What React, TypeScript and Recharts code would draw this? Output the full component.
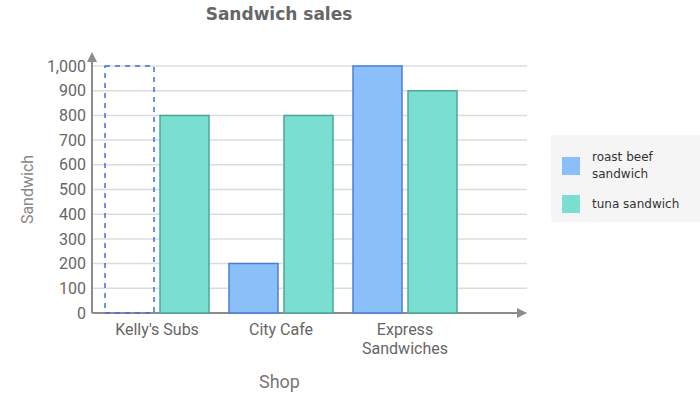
import React from "react";
import { BarChart, Bar, XAxis, YAxis, CartesianGrid, Legend, Cell, Text, Label, usePlotArea } from "recharts";

const shops = ["Kelly's Subs", "City Cafe", "Express Sandwiches"];
const roastBeef = [1000, 200, 1000];
const tuna = [800, 800, 900];
const estimated = [true, false, false];
const yTicks = [0, 100, 200, 300, 400, 500, 600, 700, 800, 900, 1000];

const series = [
  { key: "roastBeef", name: "roast beef sandwich", fill: "#8bbff9", stroke: "#4b7fd6" },
  { key: "tuna", name: "tuna sandwich", fill: "#7adfd1", stroke: "#4aa99b" },
];

const data = shops.map((shop, i) => ({ shop, roastBeef: roastBeef[i], tuna: tuna[i] }));

const AXIS = "#8c8c8c";

function Arrows() {
  const p = usePlotArea();
  if (!p) return null;
  const x0 = p.x;
  const y0 = p.y + p.height;
  const top = p.y - 14;
  const right = p.x + p.width;
  return (
    <g>
      <line x1={x0} y1={y0} x2={x0} y2={top + 6} stroke={AXIS} strokeWidth={2} />
      <polygon points={`${x0 - 5},${top + 10} ${x0 + 5},${top + 10} ${x0},${top}`} fill={AXIS} />
      <line x1={x0} y1={y0} x2={right - 6} y2={y0} stroke={AXIS} strokeWidth={2} />
      <polygon points={`${right - 10},${y0 - 5} ${right - 10},${y0 + 5} ${right},${y0}`} fill={AXIS} />
    </g>
  );
}

function ShopTick(props: any) {
  const { x, y, payload } = props;
  return (
    <Text x={x} y={y + 3} width={100} textAnchor="middle" verticalAnchor="start"
      fill="#666" fontSize={16} fontFamily="Roboto" lineHeight={19}>
      {payload.value}
    </Text>
  );
}

function LegendBox() {
  return (
    <div style={{ background: "#f5f5f5", width: 149, height: 87, boxSizing: "border-box", padding: "14px 0 0 11px",
      fontFamily: "DejaVu Sans", fontSize: 12, color: "#333" }}>
      {series.map((s) => (
        <div key={s.key} style={{ display: "flex", alignItems: "center", marginBottom: 12 }}>
          <span style={{ width: 18, height: 18, background: s.fill, flex: "none", marginRight: 12 }} />
          <span style={{ width: 100, lineHeight: "17px" }}>{s.name}</span>
        </div>
      ))}
    </div>
  );
}

export default function App() {
  return (
    <div style={{ position: "absolute", left: 0, top: 0, width: 700, height: 400, background: "#fff" }}>
      <div style={{ position: "absolute", left: 0, width: 558, top: 4, textAlign: "center",
        fontFamily: "DejaVu Sans", fontWeight: "bold", fontSize: 17, color: "#666" }}>
        Sandwich sales
      </div>
      <BarChart width={700} height={400} data={data} margin={{ top: 66, right: 24, left: 0, bottom: 0 }}
        barGap={6} barSize={49}>
        <CartesianGrid vertical={false} stroke="#dcdcdc" strokeWidth={1.5} />
        <XAxis dataKey="shop" height={87} axisLine={false} tickLine={false} padding={{ left: 3, right: 60 }}
          tick={<ShopTick />} interval={0}>
          <Label value="Shop" position="insideBottom" offset={12} fill="#777" fontSize={18} fontFamily="Roboto"
            dx={-30} />
        </XAxis>
        <YAxis width={92} domain={[0, 1000]} ticks={yTicks} axisLine={false} tickLine={false}
          tickFormatter={(v) => v.toLocaleString("en-US")} tick={{ fill: "#666", fontSize: 16, fontFamily: "Roboto", dx: 2 }}>
          <Label value="Sandwich" angle={-90} position="insideLeft" offset={27} fill="#888" fontSize={16}
            fontFamily="Roboto" style={{ textAnchor: "middle" }} />
        </YAxis>
        <Legend layout="vertical" align="right" verticalAlign="middle" width={149}
          wrapperStyle={{ width: 149, top: 135, right: 0 }} content={() => <LegendBox />} />
        <Bar dataKey="roastBeef" name={series[0].name} fill={series[0].fill} stroke={series[0].stroke}
          strokeWidth={1.5} isAnimationActive={false}>
          {data.map((d, i) => (
            <Cell key={d.shop} fill={estimated[i] ? "none" : series[0].fill}
              stroke={estimated[i] ? "#3a6fe0" : series[0].stroke}
              strokeDasharray={estimated[i] ? "5 5" : undefined} />
          ))}
        </Bar>
        <Bar dataKey="tuna" name={series[1].name} fill={series[1].fill} stroke={series[1].stroke}
          strokeWidth={1.5} isAnimationActive={false} />
        <Arrows />
      </BarChart>
    </div>
  );
}
